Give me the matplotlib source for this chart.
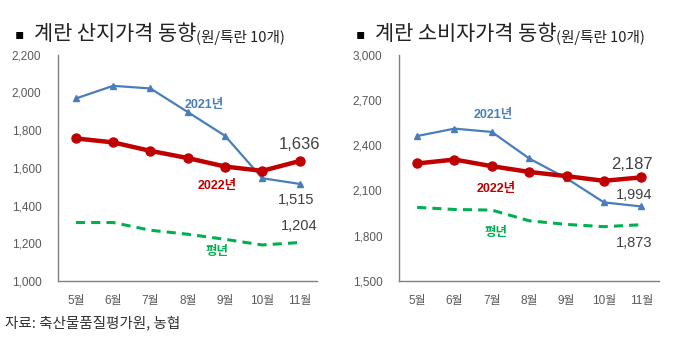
import matplotlib
matplotlib.use("Agg")
import matplotlib.pyplot as plt

plt.rcParams["font.family"] = ["Liberation Sans", "Noto Sans CJK KR", "DejaVu Sans"]

months = ["5월", "6월", "7월", "8월", "9월", "10월", "11월"]

# 산지가격 (원/특란 10개)
farm_2021 = [1968, 2035, 2021, 1896, 1770, 1545, 1515]
farm_2022 = [1756, 1735, 1690, 1652, 1607, 1584, 1636]
farm_avg = [1310, 1310, 1269, 1248, 1221, 1191, 1204]
farm_ticks = [1000, 1200, 1400, 1600, 1800, 2000, 2200]

# 소비자가격 (원/특란 10개)
retail_2021 = [2461, 2510, 2488, 2312, 2180, 2021, 1994]
retail_2022 = [2279, 2305, 2261, 2223, 2195, 2164, 2187]
retail_avg = [1988, 1974, 1970, 1899, 1875, 1860, 1873]
retail_ticks = [1500, 1800, 2100, 2400, 2700, 3000]

BLUE = "#4A7EBB"
RED = "#C00000"
GREEN = "#00B050"
GRAY = "#595959"
DARK = "#404040"
CJK = ["Noto Sans CJK KR", "DejaVu Sans"]


def draw_panel(ax, s21, s22, avg, ticks, labels):
    x = range(len(months))
    ax.plot(x, avg, color=GREEN, lw=2.2, ls=(0, (3, 2)), zorder=2)
    ax.plot(x, s21, color=BLUE, lw=1.6, marker="^", ms=4.5, zorder=3)
    ax.plot(x, s22, color=RED, lw=3.2, marker="o", ms=6.5, zorder=4)
    ax.set_xlim(-0.48, 6.47)
    ax.set_ylim(ticks[0], ticks[-1])
    ax.set_yticks(ticks)
    ax.set_yticklabels([f"{t:,}" for t in ticks])
    ax.set_xticks(list(x))
    ax.set_xticklabels(months, fontweight="medium")
    ax.tick_params(length=0, labelsize=8.5, colors=GRAY)
    ax.tick_params(axis="y", pad=12)
    ax.tick_params(axis="x", pad=10)
    for side in ("top", "right"):
        ax.spines[side].set_visible(False)
    for side in ("left", "bottom"):
        ax.spines[side].set_color("#808080")
        ax.spines[side].set_linewidth(1.0)
    for (lx, ly, txt, col, fs) in labels:
        ax.text(lx, ly, txt, color=col, fontsize=fs, ha="center", va="center",
                fontweight="bold" if col != DARK else "normal")


fig = plt.figure(figsize=(6.8, 3.53), dpi=100)
ax1 = fig.add_axes([0.0853, 0.204, 0.381, 0.641])
ax2 = fig.add_axes([0.587, 0.204, 0.382, 0.641])

draw_panel(ax1, farm_2021, farm_2022, farm_avg, farm_ticks, [
    (3.45, 1935, "2021년", BLUE, 9),
    (3.8, 1505, "2022년", RED, 9),
    (3.78, 1155, "평년", GREEN, 9),
    (6.0, 1722, f"{farm_2022[-1]:,}", DARK, 12),
    (5.9, 1432, f"{farm_2021[-1]:,}", DARK, 10.5),
    (6.0, 1292, f"{farm_avg[-1]:,}", DARK, 10.5),
])
draw_panel(ax2, retail_2021, retail_2022, retail_avg, retail_ticks, [
    (2.05, 2600, "2021년", BLUE, 9),
    (2.12, 2110, "2022년", RED, 9),
    (2.12, 1820, "평년", GREEN, 9),
    (5.75, 2272, f"{retail_2022[-1]:,}", DARK, 12),
    (5.8, 2068, f"{retail_2021[-1]:,}", DARK, 10.5),
    (5.8, 1750, f"{retail_avg[-1]:,}", DARK, 10.5),
])

for x0, title in [(0.022, "계란 산지가격 동향"), (0.523, "계란 소비자가격 동향")]:
    fig.text(x0, 0.905, "▪", fontsize=10, color="black", va="center",
             family=["DejaVu Sans"])
    t = fig.text(x0 + 0.028, 0.905, title, fontsize=15, color="#222222",
                 va="center", family=CJK, fontweight="light")
    fig.canvas.draw()
    bb = t.get_window_extent()
    fig.text(bb.x1 / fig.bbox.width, 0.895, "(원/특란 10개)", fontsize=10.5,
             color="#222222", va="center", family=CJK, fontweight="light")

fig.text(0.008, 0.085, "자료: 축산물품질평가원, 농협", fontsize=10.5,
         color="#333333", va="center", family=CJK, fontweight="light")

fig.savefig("out.png", dpi=100)
